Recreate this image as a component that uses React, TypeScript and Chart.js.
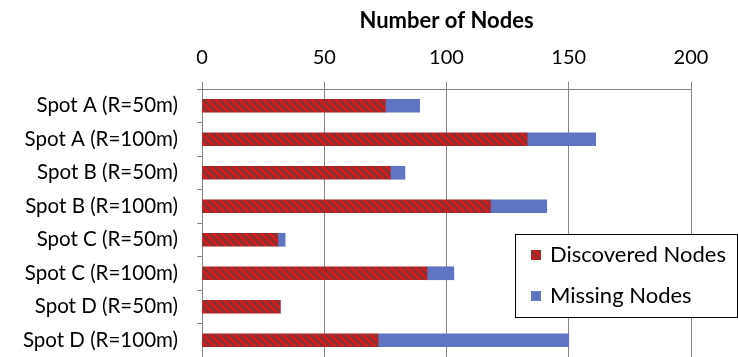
import React, { useEffect, useRef } from "react";
import { Chart, registerables } from "chart.js";

Chart.register(...registerables);

// Categories, top to bottom
const categories = [
  "Spot A (R=50m)",
  "Spot A (R=100m)",
  "Spot B (R=50m)",
  "Spot B (R=100m)",
  "Spot C (R=50m)",
  "Spot C (R=100m)",
  "Spot D (R=50m)",
  "Spot D (R=100m)",
];

// Node counts per spot
const discoveredNodes = [75, 133, 77, 118, 31, 92, 32, 72];
const missingNodes = [14, 28, 6, 23, 3, 11, 0, 78];

// Axis range
const xMin = 0;
const xMax = 200;
const xStep = 50;

const FONT = "Lato, 'Open Sans', sans-serif";
const GRID = "#868686";
const WIDTH = 738;
const HEIGHT = 357;

// Red fill with dark diagonal stripes
function makeHatch(): CanvasPattern | string {
  const size = 8;
  const c = document.createElement("canvas");
  c.width = size;
  c.height = size;
  const g = c.getContext("2d");
  if (!g) return "#cc1a1a";
  g.fillStyle = "#d81a1a";
  g.fillRect(0, 0, size, size);
  g.strokeStyle = "#843232";
  g.lineWidth = 3;
  g.beginPath();
  for (const k of [-size, 0, size]) {
    g.moveTo(k - 1, -1);
    g.lineTo(k + size + 1, size + 1);
  }
  g.stroke();
  const p = g.createPattern(c, "repeat");
  return p ?? "#cc1a1a";
}

// Boxed legend drawn inside the plot area
const boxedLegend = {
  id: "boxedLegend",
  afterDraw(chart: any) {
    const ctx: CanvasRenderingContext2D = chart.ctx;
    const x = 515;
    const y = 234;
    const w = 222;
    const h = 83;
    ctx.save();
    ctx.fillStyle = "#ffffff";
    ctx.fillRect(x, y, w, h);
    ctx.strokeStyle = "#000000";
    ctx.lineWidth = 1;
    ctx.strokeRect(x + 0.5, y + 0.5, w, h);
    ctx.font = `22px ${FONT}`;
    ctx.textBaseline = "middle";
    ctx.textAlign = "left";
    chart.data.datasets.forEach((ds: any, i: number) => {
      const cy = 255 + i * 41;
      ctx.fillStyle = ds.backgroundColor;
      ctx.fillRect(531, cy - 5, 10, 10);
      ctx.fillStyle = "#000000";
      ctx.fillText(ds.label, 550, cy);
    });
    ctx.restore();
  },
};

export default function App() {
  const canvasRef = useRef<HTMLCanvasElement | null>(null);

  useEffect(() => {
    const canvas = canvasRef.current;
    if (!canvas) return;
    const hatch = makeHatch();

    const chart = new Chart(canvas, {
      type: "bar",
      data: {
        labels: categories,
        datasets: [
          {
            label: "Discovered Nodes",
            data: discoveredNodes,
            backgroundColor: hatch as any,
            borderWidth: 0,
            barThickness: 13,
          },
          {
            label: "Missing Nodes",
            data: missingNodes,
            backgroundColor: "#5f74c2",
            borderWidth: 0,
            barThickness: 13,
          },
        ],
      },
      options: {
        indexAxis: "y",
        animation: false,
        responsive: false,
        devicePixelRatio: 1,
        layout: { padding: { top: 0, right: 47, bottom: 0, left: 0 } },
        plugins: {
          legend: { display: false },
          tooltip: { enabled: false },
        },
        scales: {
          x: {
            position: "top",
            stacked: true,
            min: xMin,
            max: xMax,
            ticks: {
              stepSize: xStep,
              color: "#000000",
              font: { family: FONT, size: 20 },
              padding: 12,
            },
            grid: { color: GRID, tickLength: 7, lineWidth: 1 },
            border: { color: GRID },
            title: {
              display: true,
              text: "Number of Nodes",
              color: "#000000",
              font: { family: FONT, size: 22, weight: "bold" },
              padding: { top: 8, bottom: 0 },
            },
            afterFit: (s: any) => {
              s.height = 89;
              s.paddingLeft = 0;
              s.paddingRight = 0;
            },
          },
          y: {
            stacked: true,
            ticks: {
              color: "#000000",
              font: { family: FONT, size: 20.5 },
              padding: 19,
            },
            grid: {
              drawOnChartArea: false,
              offset: true,
              tickLength: 5,
              color: GRID,
            },
            border: { color: GRID },
            afterFit: (s: any) => {
              s.width = 202;
              s.paddingTop = 0;
              s.paddingBottom = 0;
            },
          },
        },
      },
      plugins: [boxedLegend],
    });

    return () => chart.destroy();
  }, []);

  return (
    <div
      style={{
        position: "fixed",
        left: 0,
        top: 0,
        width: WIDTH,
        height: HEIGHT,
        overflow: "hidden",
        background: "#ffffff",
      }}
    >
      <canvas
        ref={canvasRef}
        width={WIDTH}
        height={HEIGHT}
        style={{ display: "block", width: WIDTH, height: HEIGHT }}
      />
    </div>
  );
}
